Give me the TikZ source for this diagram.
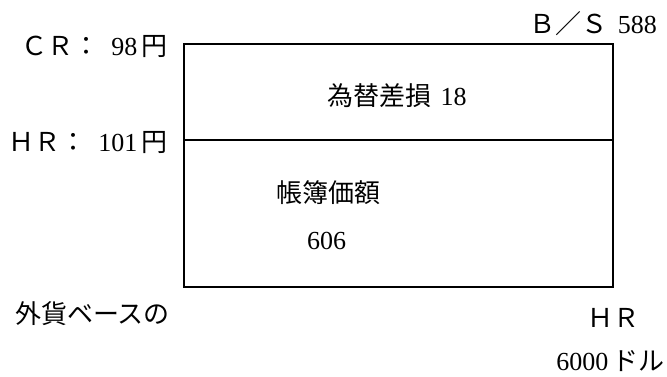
\documentclass[tikz,border=0pt]{standalone}
\usepackage{fontspec}
\setmainfont{Liberation Serif}
\newfontfamily\jp{Noto Sans CJK JP}
\begin{document}
\begin{tikzpicture}[x=1pt,y=-1pt,
  lbl/.style={inner sep=0pt, font=\fontsize{26}{30}\selectfont},
  frame/.style={draw, line width=2pt, inner sep=0pt, minimum width=429pt, minimum height=243pt}]
\useasboundingbox (0,0) rectangle (667,376);
\node[frame, anchor=north west] (bs) at (183,43) {};
\coordinate (ml) at (183,140);
\coordinate (mr) at (612,140);
\draw[line width=2pt] (ml -| bs.west) -- (mr -| bs.east);
\node[lbl, anchor=east] (cr) at (168,47) {{\jp ＣＲ：}\hspace{0.45em}98\,{\jp 円}};
\node[lbl, anchor=east] (hr) at (168,143) {{\jp ＨＲ：}\hspace{0.45em}101\,{\jp 円}};
\node[lbl, anchor=east] (title) at (657,24) {{\jp Ｂ／Ｓ}\hspace{0.4em}588};
\node[lbl, anchor=center] (loss) at (397,96) {{\jp 為替差損}\hspace{0.35em}18};
\node[lbl, anchor=west] (book) at (276,193) {\jp 帳簿価額};
\node[lbl, anchor=west] (bookv) at (307,241) {606};
\node[lbl, anchor=west] (base) at (15,314) {\jp 外貨ベースの};
\node[lbl, anchor=center] (hrb) at (613,318) {\jp ＨＲ};
\node[lbl, anchor=east] (usd) at (665,361) {6000\,{\jp ドル}};
\end{tikzpicture}
\end{document}
